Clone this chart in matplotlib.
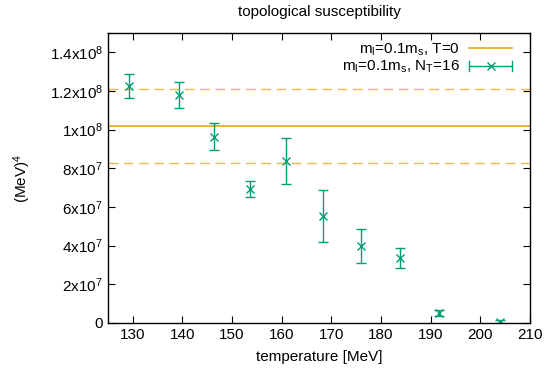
import numpy as np
import matplotlib
matplotlib.use("Agg")
import matplotlib.pyplot as plt
from matplotlib.ticker import FuncFormatter, MultipleLocator
from matplotlib.legend_handler import HandlerBase
from matplotlib.lines import Line2D
from matplotlib.container import ErrorbarContainer

plt.rcParams['font.family'] = ['Liberation Sans', 'DejaVu Sans']
plt.rcParams['mathtext.fontset'] = 'custom'
plt.rcParams['mathtext.rm'] = 'Liberation Sans'
plt.rcParams['mathtext.it'] = 'Liberation Sans'

# data: N_T=16 lattice
temperature = [129.3, 139.4, 146.4, 153.6, 160.9, 168.3, 175.9, 183.8, 191.7, 203.9]
chi = [1.225e8, 1.18e8, 0.963e8, 0.691e8, 0.839e8, 0.553e8, 0.398e8, 0.336e8, 0.053e8, 0.007e8]
chi_err = [0.062e8, 0.067e8, 0.069e8, 0.041e8, 0.118e8, 0.137e8, 0.089e8, 0.052e8, 0.016e8, 0.010e8]

# T=0 value and band
chi_T0 = 1.017e8
chi_T0_err = 0.192e8

orange = '#e69f00'
green = '#009e73'


class GnuplotErrHandler(HandlerBase):
    # horizontal bar with end caps and marker in the middle, like gnuplot keys
    def create_artists(self, legend, orig_handle, xdescent, ydescent, width, height, fontsize, trans):
        y = height / 2 - ydescent
        x0, x1 = -xdescent, -xdescent + width
        c = 3.5
        arts = [
            Line2D([x0, x1], [y, y], color=green, lw=1.0),
            Line2D([x0, x0], [y - c, y + c], color=green, lw=1.0),
            Line2D([x1, x1], [y - c, y + c], color=green, lw=1.0),
            Line2D([(x0 + x1) / 2], [y], marker='x', ms=6, mew=1.0, color=green, ls='none'),
        ]
        for a in arts:
            a.set_transform(trans)
        return arts


fig = plt.figure(figsize=(5.45, 3.79), dpi=100)
ax = fig.add_axes([0.198, 0.148, 0.7745, 0.765])

ax.axhline(chi_T0, color=orange, lw=1.1, label=r'm$_\mathregular{l}$=0.1m$_\mathregular{s}$, T=0')
ax.axhline(chi_T0 + chi_T0_err, color=orange, lw=1.0, ls=(0, (7, 4)), alpha=0.7)
ax.axhline(chi_T0 - chi_T0_err, color=orange, lw=1.0, ls=(0, (7, 4)), alpha=0.7)

eb = ax.errorbar(temperature, chi, yerr=chi_err, fmt='x', color=green, ms=6, mew=1.0,
                 elinewidth=1.0, capsize=3.5, capthick=1.0,
                 label=r'm$_\mathregular{l}$=0.1m$_\mathregular{s}$, N$_\mathregular{T}$=16')

ax.set_xlim(125, 210)
ax.set_ylim(0, 1.5e8)
ax.xaxis.set_major_locator(MultipleLocator(10))
ax.yaxis.set_major_locator(MultipleLocator(2e7))


def fmt(v, pos):
    if v == 0:
        return '0'
    e = int(np.floor(np.log10(abs(v)) + 1e-9))
    m = v / 10**e
    ms = ('%.1f' % m).rstrip('0').rstrip('.')
    return r'%sx10$^{\mathregular{%d}}$' % (ms, e)


ax.yaxis.set_major_formatter(FuncFormatter(fmt))
ax.tick_params(direction='in', top=True, right=True, labelsize=11, length=5)
for s in ax.spines.values():
    s.set_linewidth(1.0)

ax.set_title('topological susceptibility', fontsize=11, pad=12)
ax.set_xlabel('temperature [MeV]', fontsize=11, labelpad=6)
ax.set_ylabel(r'(MeV)$^{\mathregular{4}}$', fontsize=11, labelpad=12)

ax.legend(loc='upper right', bbox_to_anchor=(0.9716, 0.993), frameon=False, markerfirst=False,
          fontsize=11, handlelength=2.8, borderaxespad=0, labelspacing=0.1, handletextpad=0.6,
          handler_map={ErrorbarContainer: GnuplotErrHandler()})

fig.savefig('out.png', dpi=100)
